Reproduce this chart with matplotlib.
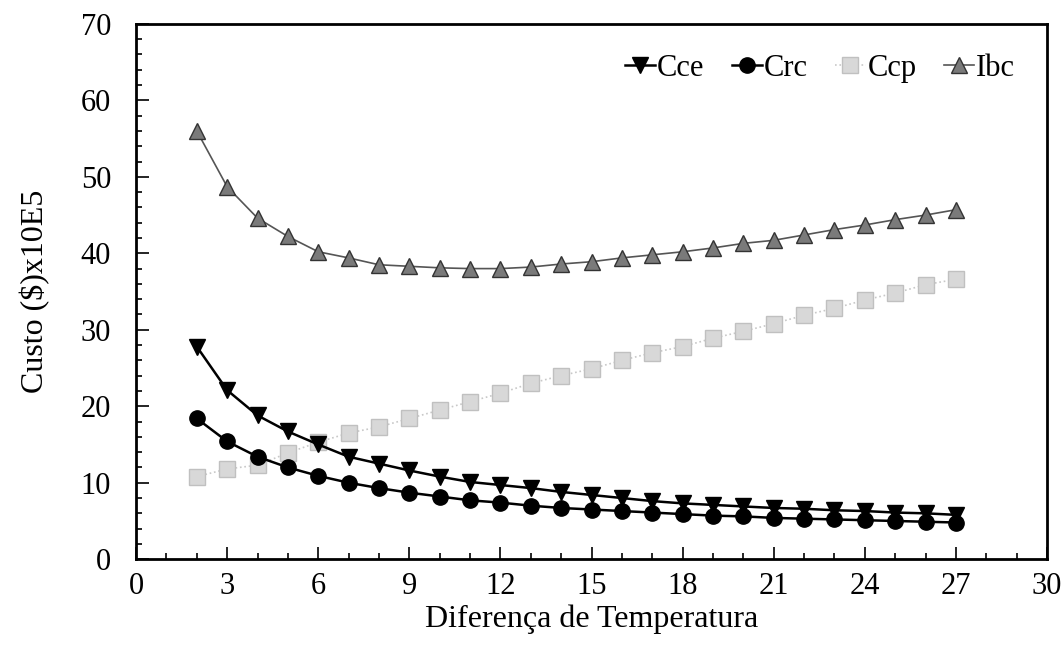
import matplotlib
matplotlib.use('Agg')
import matplotlib.pyplot as plt
from matplotlib.ticker import MultipleLocator

plt.rcParams['font.family'] = 'Liberation Serif'

# dados
dT = list(range(2, 28))
cce = [27.8, 22.1, 18.8, 16.7, 15.0, 13.4, 12.5, 11.6, 10.8, 10.1, 9.7, 9.3, 8.8,
       8.4, 8.0, 7.6, 7.3, 7.1, 6.9, 6.7, 6.6, 6.4, 6.3, 6.1, 6.0, 5.8]
crc = [18.4, 15.4, 13.4, 12.0, 10.9, 10.0, 9.3, 8.7, 8.2, 7.7, 7.4, 7.0, 6.7,
       6.5, 6.3, 6.1, 5.9, 5.7, 5.6, 5.4, 5.3, 5.2, 5.1, 5.0, 4.9, 4.8]
ccp = [10.8, 11.8, 12.3, 13.9, 15.3, 16.5, 17.3, 18.4, 19.5, 20.6, 21.7, 23.0, 24.0,
       24.9, 26.0, 27.0, 27.8, 28.9, 29.8, 30.8, 31.9, 32.8, 33.9, 34.8, 35.9, 36.6]
ibc = [56.0, 48.7, 44.6, 42.2, 40.2, 39.4, 38.5, 38.3, 38.1, 38.0, 38.0, 38.2, 38.6,
       38.9, 39.4, 39.8, 40.2, 40.7, 41.3, 41.7, 42.4, 43.1, 43.7, 44.4, 45.0, 45.7]

fig = plt.figure(figsize=(10.63, 6.45), dpi=100)
ax = fig.add_axes([0.128, 0.133, 0.857, 0.830])

ax.plot(dT, cce, color='black', lw=1.8, marker='v', ms=12, label='Cce', zorder=4)
ax.plot(dT, crc, color='black', lw=1.8, marker='o', ms=11, label='Crc', zorder=4)
ax.plot(dT, ccp, color='#c8c8c8', lw=1.2, ls=':', marker='s', ms=11,
        mfc='#d8d8d8', mec='#c0c0c0', label='Ccp', zorder=3)
ax.plot(dT, ibc, color='#555555', lw=1.2, marker='^', ms=12,
        mfc='#7a7a7a', mec='#333333', label='Ibc', zorder=3)

ax.set_xlim(0, 30)
ax.set_ylim(0, 70)
ax.xaxis.set_major_locator(MultipleLocator(3))
ax.xaxis.set_minor_locator(MultipleLocator(1))
ax.yaxis.set_major_locator(MultipleLocator(10))
ax.yaxis.set_minor_locator(MultipleLocator(2))
ax.tick_params(which='both', direction='in', labelsize=22, width=1.2)
ax.tick_params(which='major', length=9)
ax.tick_params(which='minor', length=4)
ax.tick_params(axis='x', pad=9)
ax.tick_params(axis='y', pad=18)
for s in ax.spines.values():
    s.set_linewidth(2)

ax.set_xlabel('Diferença de Temperatura', fontsize=23, labelpad=3)
ax.set_ylabel('Custo ($)x10E5', fontsize=23, labelpad=22)

ax.legend(loc='upper right', ncol=4, frameon=False, fontsize=22,
          handlelength=1.0, handletextpad=0.05, columnspacing=0.9,
          bbox_to_anchor=(0.995, 0.995))

fig.savefig('out.png', dpi=100)
